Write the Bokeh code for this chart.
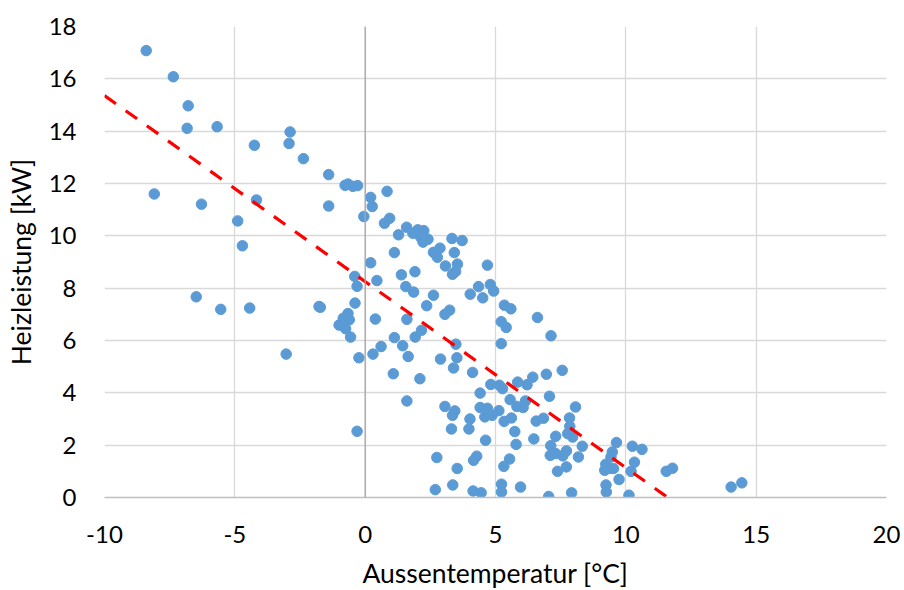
from bokeh.plotting import figure
from bokeh.models import Span, FixedTicker, PrintfTickFormatter
from bokeh.embed import file_html
from bokeh.resources import INLINE

# Aussentemperatur [°C]
temp_x = [
    -8.40, -7.36, -6.79, -6.83, -5.68, -8.09, -6.28, -4.25, -2.88, -2.92,
    -2.37, -1.40, -0.77, -0.66, -0.47, -0.29, -4.17, -1.40, -0.05, 0.21,
    0.27, -4.89, -4.71, 0.21, -0.40, -0.31, -6.48, -5.54, -4.43, -1.77,
    -1.72, -0.39, -0.66, -0.84, -0.61, -1.00, -0.75, -0.56, -3.03, -0.24,
    -0.31,
    0.84, 0.74, 0.94, 1.28, 1.59, 1.83, 2.02, 2.25, 2.13, 2.41,
    2.22, 2.62, 2.87, 2.77, 3.33, 3.72, 3.42, 3.08, 3.54, 3.47,
    3.35, 1.12, 1.39, 1.91, 1.56, 1.86, 0.45, 4.69, 4.35, 4.03,
    4.51, 4.80, 4.93, 2.62, 2.36, 0.39, 1.60, 3.06, 3.24, 5.34,
    5.59, 6.61, 5.22, 5.41, 7.13, 2.16, 1.92, 1.12, 1.44, 0.61,
    0.30, 1.65, 3.48, 2.89, 3.52, 3.39, 4.12, 1.08, 2.10, 5.22,
    4.82, 5.15, 5.27, 5.85, 6.21, 6.43, 6.95, 7.56, 4.41, 7.07,
    1.60, 5.56, 5.82, 6.06, 6.15, 8.07, 3.06, 3.44, 3.35, 4.41,
    4.69, 4.59, 4.87, 5.13, 4.02, 3.98, 3.31, 5.33, 5.61, 5.74,
    6.56, 6.84, 7.84, 7.85, 7.77, 7.96, 7.31, 6.47, 5.79, 4.62,
    8.33, 7.12, 7.10, 7.31, 7.58, 7.72, 7.72, 7.38, 8.18, 2.75,
    4.28, 4.16, 5.54, 5.32, 3.53, 3.36, 2.69, 4.14, 4.45, 5.23,
    5.23, 5.96, 7.04, 7.92,
    9.64, 9.48, 9.43, 9.23, 9.19, 9.53, 9.38, 9.74, 9.24, 9.25,
    10.12, 10.25, 10.62, 10.33, 10.20, 11.55, 11.79, 14.04, 14.45,
]

# Heizleistung [kW]
heat_y = [
    17.08, 16.08, 14.97, 14.11, 14.17, 11.60, 11.21, 13.46, 13.97, 13.53,
    12.95, 12.34, 11.93, 11.98, 11.89, 11.92, 11.37, 11.14, 10.74, 11.47,
    11.12, 10.57, 9.62, 8.97, 8.45, 8.07, 7.67, 7.19, 7.24, 7.30,
    7.27, 7.43, 7.03, 6.85, 6.79, 6.59, 6.45, 6.13, 5.48, 5.34,
    2.53,
    11.70, 10.48, 10.67, 10.04, 10.33, 10.10, 10.23, 10.20, 9.95, 9.87,
    9.76, 9.37, 9.53, 9.18, 9.90, 9.82, 9.36, 8.85, 8.92, 8.64,
    8.53, 9.36, 8.51, 8.63, 8.06, 7.85, 8.29, 8.88, 8.06, 7.77,
    7.63, 8.14, 7.89, 7.73, 7.33, 6.82, 6.81, 7.00, 7.16, 7.35,
    7.21, 6.88, 6.72, 6.50, 6.18, 6.39, 6.13, 6.11, 5.80, 5.77,
    5.48, 5.39, 5.86, 5.29, 5.34, 4.95, 4.78, 4.73, 4.54, 5.88,
    4.32, 4.29, 4.16, 4.41, 4.31, 4.60, 4.71, 4.86, 3.99, 3.87,
    3.69, 3.74, 3.48, 3.44, 3.69, 3.46, 3.48, 3.31, 3.14, 3.44,
    3.41, 3.08, 3.14, 3.32, 3.00, 2.62, 2.62, 2.91, 3.04, 2.52,
    2.92, 3.03, 3.04, 2.72, 2.44, 2.31, 2.34, 2.24, 2.03, 2.19,
    1.96, 1.98, 1.61, 1.68, 1.59, 1.78, 1.17, 1.00, 1.55, 1.53,
    1.58, 1.42, 1.47, 1.19, 1.11, 0.48, 0.30, 0.25, 0.18, 0.51,
    0.21, 0.40, 0.04, 0.18,
    2.10, 1.74, 1.55, 1.27, 1.04, 1.11, 1.11, 0.69, 0.48, 0.21,
    0.09, 1.96, 1.84, 1.35, 1.00, 1.00, 1.12, 0.40, 0.56,
]

# linear trend line
trend_intercept = 8.25
trend_slope = -0.711
trend_x = [-10.0, 11.6]
trend_y = [trend_intercept + trend_slope * x for x in trend_x]

x_ticks = [-10, -5, 0, 5, 10, 15, 20]
y_ticks = [0, 2, 4, 6, 8, 10, 12, 14, 16, 18]

FONT = "Lato"

p = figure(
    frame_width=782, frame_height=471,
    x_range=(-10, 20), y_range=(0, 18),
    output_backend="svg", toolbar_location=None,
    min_border_left=104, min_border_right=18,
    min_border_top=26, min_border_bottom=93,
)
p.outline_line_color = None
p.background_fill_color = "white"

p.xaxis.ticker = FixedTicker(ticks=x_ticks)
p.yaxis.ticker = FixedTicker(ticks=y_ticks)
p.xaxis.formatter = PrintfTickFormatter(format="%d")
p.yaxis.formatter = PrintfTickFormatter(format="%d")

for ax in (p.xaxis, p.yaxis):
    ax.major_tick_line_color = None
    ax.minor_tick_line_color = None
    ax.major_label_text_font = FONT
    ax.major_label_text_font_size = "24px"
    ax.major_label_text_color = "black"
    ax.axis_label_text_font = FONT
    ax.axis_label_text_font_size = "26.5px"
    ax.axis_label_text_font_style = "normal"
    ax.axis_label_text_color = "black"

p.xaxis.axis_label = "Aussentemperatur [°C]"
p.yaxis.axis_label = "Heizleistung [kW]"
p.xaxis.axis_line_color = "#bfbfbf"
p.xaxis.axis_line_width = 1.5
p.yaxis.axis_line_color = None
p.xaxis.major_label_standoff = 22
p.yaxis.major_label_standoff = 22
p.xaxis.axis_label_standoff = 11
p.yaxis.axis_label_standoff = 9

p.xgrid.grid_line_color = "#d9d9d9"
p.ygrid.grid_line_color = "#d9d9d9"
p.xgrid.grid_line_width = 1.3
p.ygrid.grid_line_width = 1.3

p.add_layout(Span(location=0, dimension="height", line_color="#a6a6a6", line_width=1.3))

p.scatter(temp_x, heat_y, size=10.5, color="#5b9bd5", line_color="#5b9bd5")
p.line(trend_x, trend_y, line_color="#ff0000", line_width=3.2, line_dash="14 12")

open("out.html", "w").write(file_html(p, INLINE))
